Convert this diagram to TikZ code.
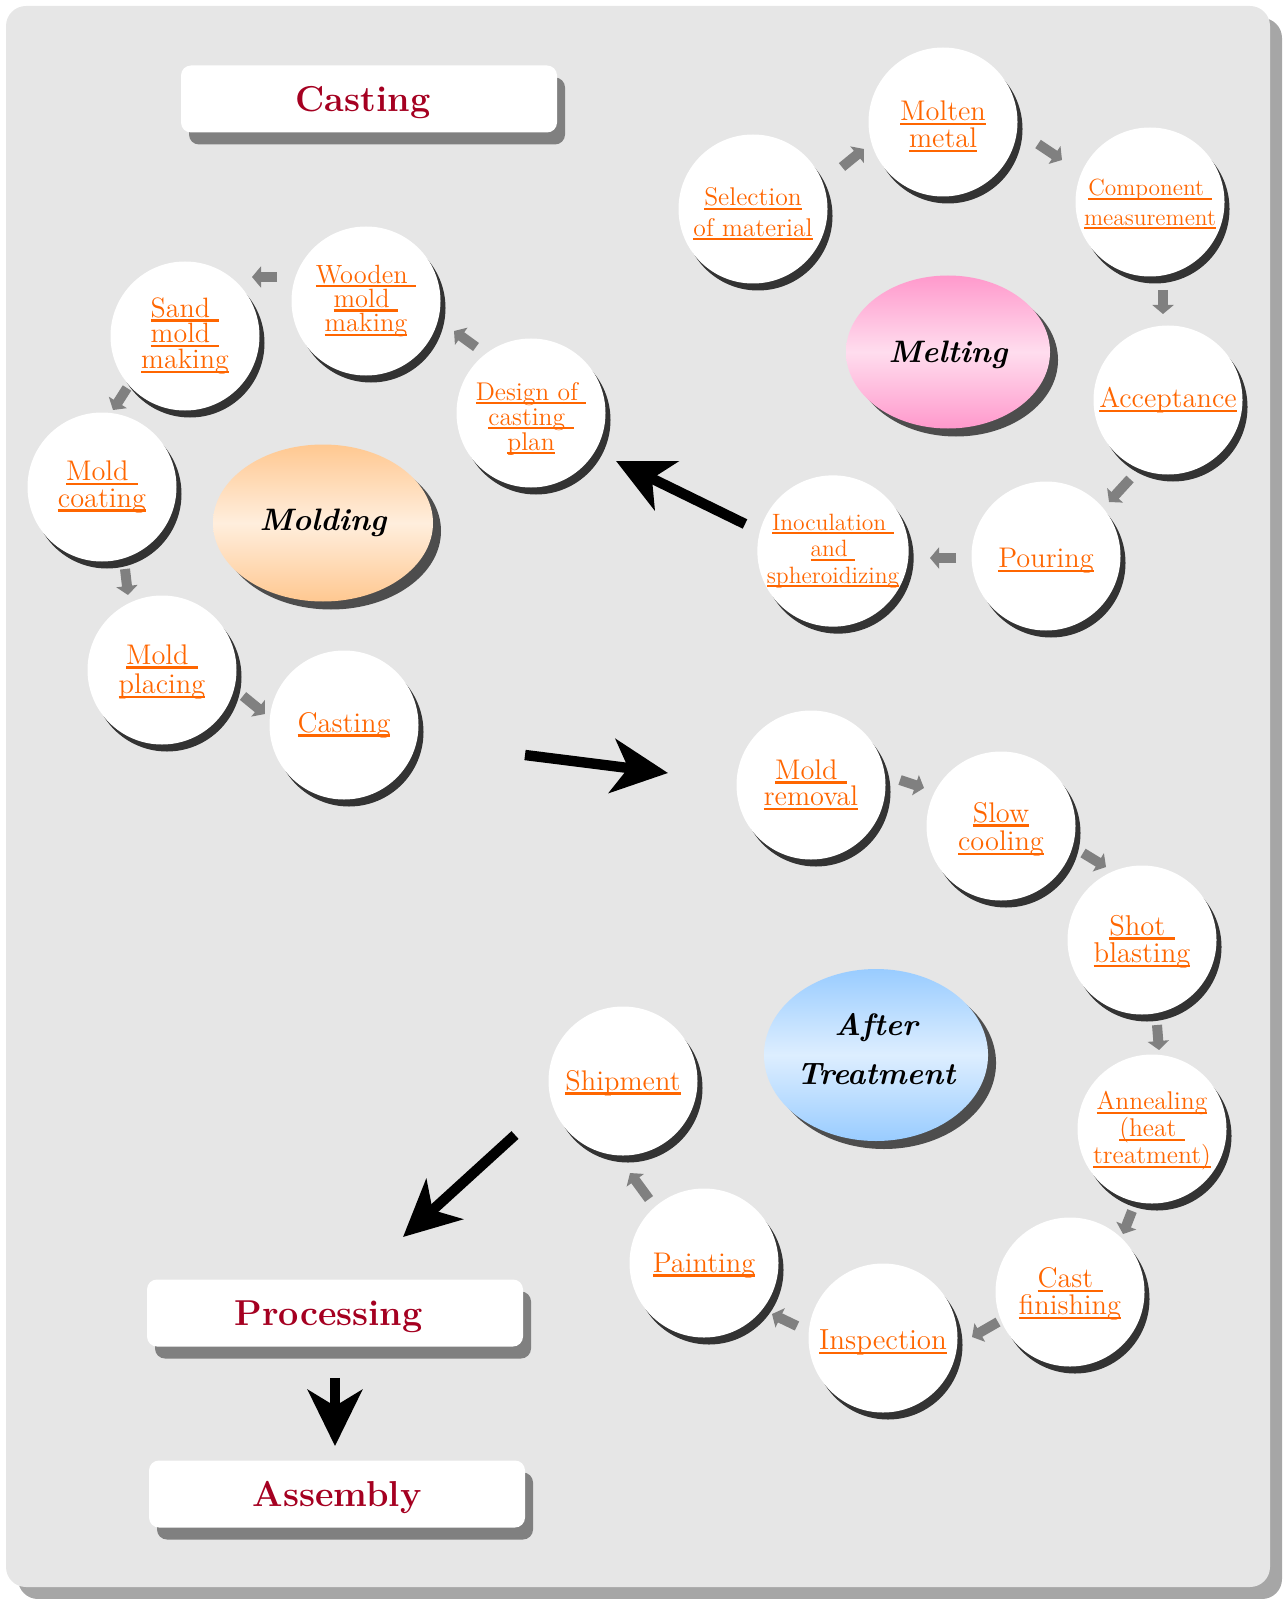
\documentclass[tikz,border=0pt]{standalone}
\usepackage{fontspec}
\usetikzlibrary{shapes.geometric,shadows,arrows.meta,calc}
\definecolor{bgfill}{HTML}{E6E6E6}
\definecolor{bgshadow}{HTML}{A6A6A6}
\definecolor{orangetxt}{HTML}{FF6600}
\definecolor{titlered}{HTML}{A50021}
\definecolor{circshadow}{HTML}{333333}
\definecolor{ellshadow}{HTML}{4D4D4D}
\definecolor{boxshadow}{HTML}{808080}
\definecolor{garrowc}{HTML}{808080}
\definecolor{moldA}{HTML}{FFC891}
\definecolor{moldB}{HTML}{FFEEDD}
\definecolor{meltA}{HTML}{FF99CC}
\definecolor{meltB}{HTML}{FFDDEE}
\definecolor{aftA}{HTML}{99CCFF}
\definecolor{aftB}{HTML}{DDEEFF}
\newcommand\myul[1]{\setbox0=\hbox{#1}\rlap{\rule[-0.16em]{\wd0}{0.085em}}\box0}
\newcommand\fsz[2]{\fontsize{#1}{#2}\selectfont\lineskiplimit=-20pt\lineskip=0pt}
\newcommand\dnstrut[1]{\rule{0pt}{#1}}
\tikzset{
  stepcircle/.style={circle, fill=white, minimum size=74.5pt, inner sep=0pt, outer sep=0pt,
     align=center, text=orangetxt, font=\fsz{14.2}{13.3},
     drop shadow={shadow xshift=2.5pt, shadow yshift=-3.5pt, fill=circshadow, opacity=1}},
  phase/.style={ellipse, inner sep=0pt, align=center,
     font=\fsz{15.5}{24.5}\bfseries\itshape,
     drop shadow={shadow xshift=4pt, shadow yshift=-4pt, fill=ellshadow, opacity=1}},
  titlebox/.style={rectangle, rounded corners=5pt, fill=white, minimum width=188pt,
     minimum height=33.5pt, text depth=0pt, text=titlered, font=\fsz{18}{20}\bfseries,
     drop shadow={shadow xshift=4pt, shadow yshift=-6pt, fill=boxshadow, opacity=1}},
  garrow/.style={draw=garrowc, line width=5pt, -{Triangle[length=4.5pt,width=10.5pt]}},
  bigarrow/.style={draw=black, line width=5.2pt, -{Stealth[length=28pt,width=27pt,inset=8pt]}},
}
\begin{document}
\begin{tikzpicture}[x=0.5pt,y=-0.5pt]
\useasboundingbox (0,0) rectangle (1282,1599);
\fill[bgshadow, rounded corners=10pt] (18,18) rectangle (1282,1599);
\fill[bgfill, rounded corners=10pt] (6,6) rectangle (1270,1587);

% title boxes
\node[titlebox] (casttitle) at (369,99) {Casting\hspace*{6pt}};
\node[titlebox] (proc) at (335,1313) {Processing\hspace*{6.5pt}};
\node[titlebox] (asm) at (337,1494) {Assembly};

% phase ellipses
\node[phase, minimum width=110pt, minimum height=78.5pt, top color=moldA, bottom color=moldA, middle color=moldB] (molding) at (323,523) {Molding};
\node[phase, minimum width=102pt, minimum height=76.5pt, top color=meltA, bottom color=meltA, middle color=meltB] (melting) at (948,352) {\dnstrut{14pt}Melting};
\node[phase, minimum width=111pt, minimum height=86pt, top color=aftA, bottom color=aftA, middle color=aftB] (after) at (876,1055) {After\\Treatment\rule[-6pt]{0pt}{0pt}};

% molding steps
\node[stepcircle, font=\fsz{13.2}{12.2}] (wood) at (366,301) {\myul{Wooden\ }\\\myul{mold\ }\\\myul{making}};
\node[stepcircle, font=\fsz{14}{12.8}] (sand) at (185,336) {\myul{Sand\ }\\\myul{mold\ }\\\myul{making}};
\node[stepcircle, font=\fsz{12.8}{12.5}] (design) at (531,413) {\dnstrut{14.5pt}\myul{Design of\ }\\\myul{casting\ }\\\myul{plan}};
\node[stepcircle] (coat) at (102,487) {\myul{Mold\ }\\\myul{coating}};
\node[stepcircle, font=\fsz{14.2}{14.8}] (place) at (162,670) {\dnstrut{12pt}\myul{Mold\ }\\\myul{placing}};
\node[stepcircle] (cast) at (344,725) {\myul{Casting}};

% melting steps
\node[stepcircle, font=\fsz{12.8}{15.3}] (sel) at (753,209) {\dnstrut{14pt}\myul{Selection}\\\myul{of material}};
\node[stepcircle] (molten) at (943,122) {\dnstrut{14.5pt}\myul{Molten}\\\myul{metal}};
\node[stepcircle, font=\fsz{11.7}{14.8}] (comp) at (1150,202) {\dnstrut{10.5pt}\myul{Component\ }\\\myul{measurement}};
\node[stepcircle] (acc) at (1168,400) {\myul{Acceptance}};
\node[stepcircle] (pour) at (1046,556) {\dnstrut{14.5pt}\myul{Pouring}};
\node[stepcircle, font=\fsz{11.8}{13.3}] (inoc) at (833,551) {\myul{Inoculation\ }\\\myul{and\ }\\\myul{spheroidizing}};

% after treatment steps
\node[stepcircle] (rem) at (811,785) {\myul{Mold\ }\\\myul{removal}};
\node[stepcircle, font=\fsz{14.2}{14.3}] (slow) at (1001,826) {\dnstrut{13.5pt}\myul{Slow}\\\myul{cooling}};
\node[stepcircle, font=\fsz{14.3}{13.8}] (shot) at (1142,940) {\dnstrut{12pt}\myul{Shot\ }\\\myul{blasting}};
\node[stepcircle, font=\fsz{12.8}{13.5}] (ann) at (1152,1129) {\dnstrut{11pt}\myul{Annealing}\\\myul{(heat\ }\\\myul{treatment)}};
\node[stepcircle] (fin) at (1070,1292) {\dnstrut{12pt}\myul{Cast\ }\\\myul{finishing}};
\node[stepcircle, font=\fsz{14.5}{13.3}] (insp) at (883,1338) {\dnstrut{14.5pt}\myul{Inspection}};
\node[stepcircle] (paint) at (704,1263) {\dnstrut{12pt}\myul{Painting}};
\node[stepcircle] (ship) at (623,1081) {\dnstrut{12pt}\myul{Shipment}};

% small gray arrows (free ends)
\coordinate (g1a) at (476,347);  \coordinate (g1b) at (454,331);
\coordinate (g2a) at (277,277);  \coordinate (g2b) at (252,277);
\coordinate (g3a) at (127,388);  \coordinate (g3b) at (113,410);
\coordinate (g4a) at (125,569);  \coordinate (g4b) at (128,595);
\coordinate (g5a) at (243,696);  \coordinate (g5b) at (265,714);
\coordinate (g6a) at (842,167);  \coordinate (g6b) at (864,149);
\coordinate (g7a) at (1038,144); \coordinate (g7b) at (1062,160);
\coordinate (g8a) at (1163,290); \coordinate (g8b) at (1163,314);
\coordinate (g9a) at (1130,479); \coordinate (g9b) at (1109,502);
\coordinate (g10a) at (956,558); \coordinate (g10b) at (930,558);
\coordinate (g11a) at (900,780); \coordinate (g11b) at (924,788);
\coordinate (g12a) at (1083,853); \coordinate (g12b) at (1106,867);
\coordinate (g13a) at (1157,1025); \coordinate (g13b) at (1159,1050);
\coordinate (g14a) at (1132,1211); \coordinate (g14b) at (1123,1234);
\coordinate (g15a) at (998,1322); \coordinate (g15b) at (972,1337);
\coordinate (g16a) at (797,1326); \coordinate (g16b) at (772,1314);
\coordinate (g17a) at (649,1199); \coordinate (g17b) at (630,1173);
\foreach \i in {1,...,17} {\draw[garrow] (g\i a) -- (g\i b);}

% big black arrows (free ends)
\coordinate (b1a) at (745,524);  \coordinate (b1b) at (616,461);
\coordinate (b2a) at (525,755);  \coordinate (b2b) at (668,773);
\coordinate (b3a) at (515,1135); \coordinate (b3b) at (403,1237);
\draw[bigarrow] (b1a) -- (b1b);
\draw[bigarrow] (b2a) -- (b2b);
\draw[bigarrow] (b3a) -- (b3b);
\draw[bigarrow, shorten <=15.5pt, shorten >=7pt] (proc.south) -- (proc.south |- asm.north);
\end{tikzpicture}
\end{document}
